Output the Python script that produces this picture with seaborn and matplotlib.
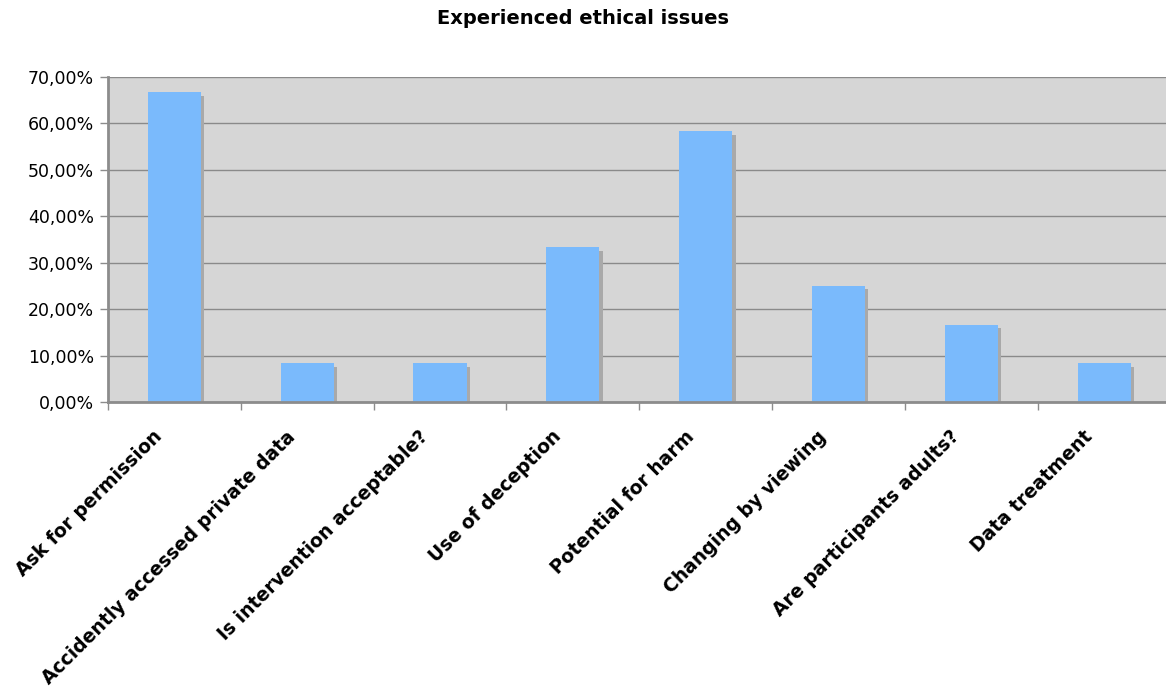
import matplotlib
matplotlib.use("Agg")
import matplotlib.pyplot as plt
import matplotlib.patheffects as pe
from matplotlib.ticker import FuncFormatter
from matplotlib.transforms import ScaledTranslation
import numpy as np
import pandas as pd
import seaborn as sns

# Survey results: share of respondents reporting each ethical issue
categories = [
    "Ask for permission",
    "Accidently accessed private data",
    "Is intervention acceptable?",
    "Use of deception",
    "Potential for harm",
    "Changing by viewing",
    "Are participants adults?",
    "Data treatment",
]
shares = [0.6667, 0.0833, 0.0833, 0.3333, 0.5833, 0.25, 0.1667, 0.0833]
title = "Experienced ethical issues"

df = pd.DataFrame({"issue": categories, "share": shares})

sns.set_theme(style="white")
plt.rcParams["font.family"] = ["DejaVu Sans"]

W, H = 1166, 693
fig = plt.figure(figsize=(W / 100, H / 100), dpi=100)
# plot area runs slightly past the right edge of the canvas
ax = fig.add_axes([108 / W, 1 - 402 / H, (1170.5 - 108) / W, (402 - 77) / H])
ax.set_facecolor("#d6d6d6")

sns.barplot(data=df, x="issue", y="share", color="#7abafc", saturation=1,
            width=0.4, ax=ax, zorder=3)
for bar in ax.patches:
    bar.set_edgecolor("none")
    bar.set_path_effects([
        pe.SimplePatchShadow(offset=(2.4, -2.4), shadow_rgbFace="#a9a9a9", alpha=1.0),
        pe.Normal(),
    ])

ax.set_ylim(0, 0.7)
ax.set_xlim(-0.5, len(categories) - 0.5)
ax.set_yticks(np.arange(0, 0.71, 0.1))
ax.yaxis.set_major_formatter(FuncFormatter(lambda v, _: f"{v * 100:.2f}%".replace(".", ",")))
ax.grid(axis="y", color="#8a8a8a", linewidth=1.0, zorder=1)
ax.set_axisbelow(True)

ax.set_xlabel("")
ax.set_ylabel("")

for side in ("top", "right"):
    ax.spines[side].set_visible(False)
for side in ("left", "bottom"):
    ax.spines[side].set_color("#8c8c8c")
    ax.spines[side].set_linewidth(2)
    ax.spines[side].set_zorder(4)

# category separators as minor ticks below the axis
ax.set_xticks(np.arange(-0.5, len(categories) + 0.5, 1.0), minor=True)
ax.tick_params(axis="x", which="major", length=0, pad=18)
ax.tick_params(axis="x", which="minor", length=6, width=1, color="#8c8c8c", direction="out", bottom=True)
ax.tick_params(axis="y", which="major", length=6, width=1, color="#8c8c8c", direction="out",
               left=True, labelsize=12.5, labelcolor="black", pad=4)

ax.set_xticks(range(len(categories)))
ax.set_xticklabels(categories, rotation=45, ha="right", va="top",
                   fontsize=13.5, fontweight="bold", color="black")
shift = ScaledTranslation(-8 / 100, 0, fig.dpi_scale_trans)
for lbl in ax.get_xticklabels():
    lbl.set_transform(lbl.get_transform() + shift)

fig.text(0.5, 1 - 18 / H, title, ha="center", va="center",
         fontsize=14, fontweight="bold", color="black")

fig.savefig("out.png", dpi=100, facecolor="white")
